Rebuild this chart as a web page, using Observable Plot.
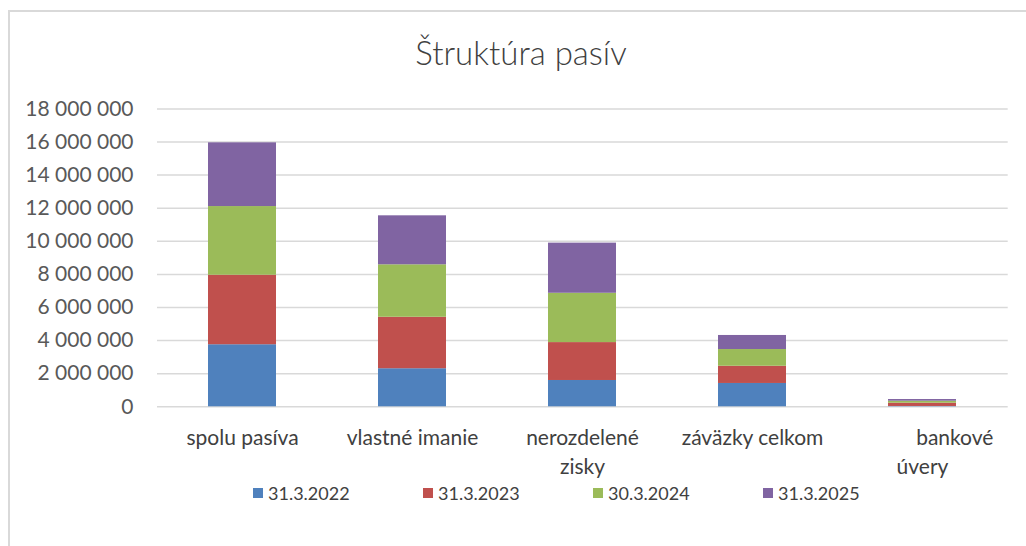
<!DOCTYPE html>
<html>
<head>
<meta charset="utf-8">
<script src="https://cdn.jsdelivr.net/npm/d3@7"></script>
<script src="https://cdn.jsdelivr.net/npm/@observablehq/plot@0.6"></script>
<style>
  html, body { margin: 0; padding: 0; background: #fff; }
  #wrap { position: relative; width: 1026px; height: 546px; overflow: hidden; background: #fff; font-family: Lato, "Open Sans", sans-serif; color: #595959; }
  #frame { position: absolute; left: 8px; top: 10px; width: 1060px; height: 600px; border-left: 2px solid #d9d9d9; border-top: 2px solid #d9d9d9; box-sizing: border-box; }
  #title { position: absolute; left: 0; width: 1042px; top: 36px; text-align: center; font-size: 33px; line-height: 33px; font-weight: 300; color: #404040; }
  #chart { position: absolute; left: 0; top: 0; }
  #legend { position: absolute; left: 253px; top: 483px; display: flex; font-size: 18px; line-height: 20px; color: #404040; }
  .item { width: 170px; display: flex; align-items: center; }
  .sw { width: 10px; height: 10px; margin-right: 5px; }
</style>
</head>
<body>
<div id="wrap">
  <div id="frame"></div>
  <div id="chart"></div>
  <div id="title"></div>
  <div id="legend"></div>
</div>
<script>
// ---- data ----
const titleText = "Štruktúra pasív";
const categories = ["spolu pasíva", "vlastné imanie", "nerozdelené zisky", "záväzky celkom", "bankové úvery"];
const xTickLabels = ["spolu pasíva", "vlastné imanie", "nerozdelené\nzisky", "záväzky celkom", "\u00a0\u00a0\u00a0\u00a0\u00a0\u00a0\u00a0\u00a0\u00a0\u00a0\u00a0\u00a0bankové\núvery"];
const seriesNames = ["31.3.2022", "31.3.2023", "30.3.2024", "31.3.2025"];
const seriesColors = ["#4F81BD", "#C0504D", "#9BBB59", "#8064A2"];
const values2022 = [3750000, 2300000, 1590000, 1410000, 20000];
const values2023 = [4200000, 3110000, 2290000, 1040000, 200000];
const values2024 = [4150000, 3170000, 2980000, 1010000, 120000];
const values2025 = [3850000, 2960000, 3030000, 850000, 100000];
const yTicks = [0, 2000000, 4000000, 6000000, 8000000, 10000000, 12000000, 14000000, 16000000, 18000000];

// ---- build table ----
const seriesValues = [values2022, values2023, values2024, values2025];
const table = [];
seriesNames.forEach((s, si) => {
  categories.forEach((c, ci) => {
    table.push({category: c, series: s, value: seriesValues[si][ci]});
  });
});

const fmt = d3.formatLocale({decimal: ",", thousands: " ", grouping: [3], currency: ["", ""]}).format(",.0f");

const chart = Plot.plot({
  width: 1026,
  height: 546,
  marginTop: 108.4,
  marginBottom: 139.7,
  marginLeft: 157,
  marginRight: 18.3,
  style: {fontFamily: "Lato, 'Open Sans', sans-serif", fontSize: "21px", color: "#595959", background: "transparent"},
  x: {domain: categories, paddingInner: 0.6, paddingOuter: 0.3, label: null},
  y: {domain: [0, 18000000], label: null},
  color: {domain: seriesNames, range: seriesColors},
  marks: [
    Plot.gridY(yTicks, {stroke: "#d9d9d9", strokeOpacity: 1, strokeWidth: 1.5}),
    Plot.barY(table, {x: "category", y: "value", fill: "series"}),
    Plot.axisY(yTicks, {tickSize: 0, tickPadding: 24, tickFormat: fmt, label: null, fill: "#595959"}),
    Plot.axisX({tickSize: 0, tickPadding: 18, label: null, lineHeight: 1.38, fill: "#404040",
      tickFormat: (d) => xTickLabels[categories.indexOf(d)]})
  ]
});
document.getElementById("chart").appendChild(chart);

document.getElementById("title").textContent = titleText;
const legend = document.getElementById("legend");
seriesNames.forEach((s, i) => {
  const item = document.createElement("div");
  item.className = "item";
  const sw = document.createElement("span");
  sw.className = "sw";
  sw.style.background = seriesColors[i];
  const t = document.createElement("span");
  t.textContent = s;
  item.appendChild(sw);
  item.appendChild(t);
  legend.appendChild(item);
});
</script>
</body>
</html>
